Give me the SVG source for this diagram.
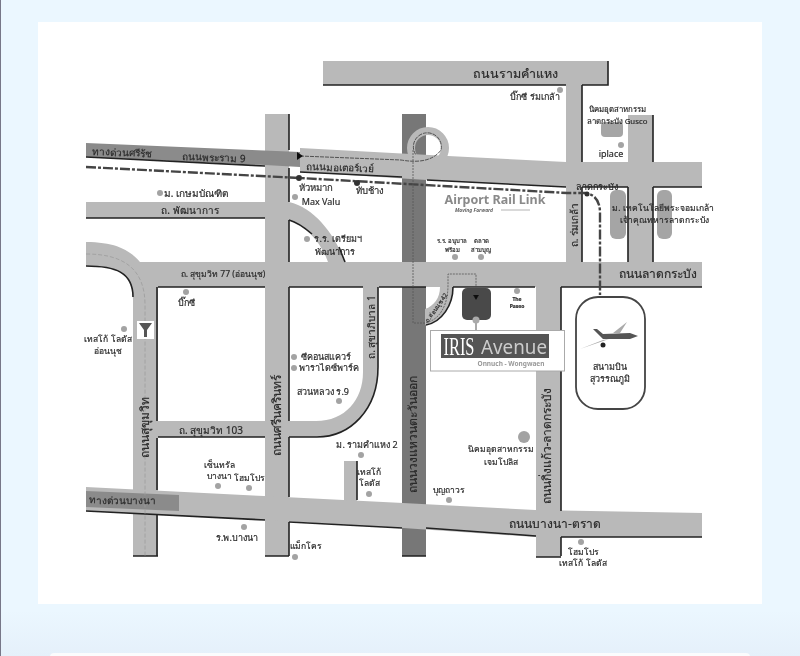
<svg xmlns="http://www.w3.org/2000/svg" width="800" height="656" viewBox="0 0 800 656">
<style>
text{font-family:"Noto Sans","DejaVu Sans","Liberation Sans",sans-serif;fill:#2a2a2a;stroke:#2a2a2a;stroke-width:.18;text-anchor:middle;font-size:9px}
.road{fill:#b9b9b9;stroke:none}
.edge{fill:none;stroke:#222;stroke-width:1.6}
.dot{fill:#a3a3a3}
.big{font-size:12px}
.mid{font-size:10px}
.sm{font-size:8.500px}
.xs{font-size:6px}
.bar{fill:#a5a5a5}
.rail{fill:none;stroke:#444;stroke-width:2.400;stroke-dasharray:10 2 3 2}
.thin{fill:none;stroke:#555;stroke-width:.8;stroke-dasharray:2 1}
.lt{stroke:none}
</style>
<defs>
<marker id="ah" markerWidth="6" markerHeight="6" refX="5" refY="3" orient="auto"><path d="M0 0L6 3L0 6Z" fill="#111"/></marker>
<linearGradient id="bg" x1="0" y1="0" x2="0" y2="1"><stop offset="0.93" stop-color="#ebf7ff"/><stop offset="1" stop-color="#e5f0fa"/></linearGradient>
<filter id="soft" x="0" y="0" width="1" height="1"><feGaussianBlur stdDeviation="0.35"/></filter>
</defs>
<rect width="800" height="656" fill="url(#bg)"/>
<rect x="0" y="0" width="1" height="656" fill="#778"/>
<rect x="38" y="22" width="724" height="582" fill="#fff"/>
<rect x="50" y="653" width="700" height="10" rx="4" fill="#fbfcfd"/>

<g filter="url(#soft)">
<g id="roads">
<rect x="402" y="114" width="24" height="442" fill="#777"/>
<circle cx="428" cy="148" r="17" fill="none" stroke="#b9b9b9" stroke-width="8"/>
<path class="road" d="M300 148L448 156L566 162H702V187H566L427 180L300 172Z"/>
<rect class="road" x="323" y="61" width="285" height="24"/>
<rect class="road" x="566" y="85" width="16" height="177"/>
<rect class="road" x="628" y="115" width="25" height="147"/>
<path class="road" d="M86 242C115 242 130 250 140 262H702V287H158V556H133V300C133 272 115 266 86 266Z"/>
<rect class="road" x="86" y="202" width="179" height="16"/>
<path class="road" d="M289 202C315 208 335 235 345 262H328C320 240 305 226 289 220Z"/>
<rect class="road" x="265" y="114" width="24" height="442"/>
<path class="road" d="M158 421H316C345 421 363 400 363 372V287H378V367C378 410 350 437 317 437H158Z"/>
<rect class="road" x="344" y="461" width="13" height="40"/>
<path class="road" d="M86 487L264 496L403 503L535 510L702 513V537H535L403 528L264 520L86 511Z"/>
<rect class="road" x="536" y="287" width="25" height="270"/>
<path class="road" d="M425 325C442 322 453 305 453 287H440C440 298 434 306 425 309Z"/>
<path d="M86 143L300 152V167L265 165L86 157Z" fill="#8b8b8b"/>
<path d="M86 491L179 495V511L86 507Z" fill="#8b8b8b"/>
<rect x="601" y="122" width="22" height="15" rx="4" class="bar"/>
<rect x="610" y="190" width="16" height="49" rx="6" class="bar"/>
<rect x="657" y="190" width="15" height="49" rx="6" class="bar"/>
</g>

<g id="edges">
<path class="edge" d="M323 85H566M582 85H608V61"/>
<path class="edge" d="M582 85V162M582 187V262M628 187V262M653 115V162M653 187V262"/>
<path class="edge" d="M427 180L566 187M582 187H628M653 187H702"/>
<path class="edge" d="M300 172L402 177"/>
<path class="edge" d="M86 157L265 166"/>
<path class="edge" d="M289 114V150M289 168V202M289 220V262M289 287V421M289 437V497M289 522V556"/>
<path class="edge" d="M265 556H289M133 556H158M402 556H426M536 557H561"/>
<path class="edge" d="M86 218H265M289 220C296 222 305 228 312 234"/>
<path class="edge" d="M339 247L345 262"/>
<path class="edge" d="M86 266C115 266 133 272 133 297"/>
<path class="edge" d="M157 287V421M157 438V490M157 515V556"/>
<path class="edge" d="M158 287H265M289 287H363M379 287H426M453 287H535M561 287H702"/>
<path class="edge" d="M158 437H265M289 437H317C350 437 378 410 378 367V287"/>
<path class="edge" d="M426 325C442 322 453 305 453 287"/>
<path class="edge" d="M561 287V511M561 537V556"/>
<path class="edge" d="M86 511L265 520M289 522L402 528M426 528L536 536M561 537H702"/>
<path class="edge" d="M357 461V500"/>
</g>

<g id="connectors">
<path d="M86 254C125 254 145 270 145 305V556" fill="none" stroke="#9c9c9c" stroke-width=".8" stroke-dasharray="4 2"/>
<path class="rail" d="M86 167L300 178L567 193H585Q600 195 600 213V295"/>
<path d="M300 156L401 160Q430 165 441 150A14 14 0 1 0 416 155" fill="none" stroke="#444" stroke-width=".9" stroke-dasharray="4 1"/>
<path class="thin" d="M413 150V323H425C440 320 448 305 448 285V274H476V296" marker-end="url(#ah)"/>
<path d="M297 152L303 156L297 160Z" fill="#111"/>
<circle cx="299" cy="178" r="3" fill="#333"/>
<circle cx="357" cy="183" r="3" fill="#333"/>
<circle cx="587" cy="194" r="2.500" fill="#333"/>
</g>

<g id="iris-avenue">
<rect x="462" y="288" width="29" height="32" rx="5" fill="#4a4a4a"/>
<path d="M473 295H479L476 300Z" fill="#111"/>
<circle cx="476" cy="320" r="3.500" fill="#aaa"/>
<rect x="475" y="322" width="2" height="9" fill="#aaa"/>
<rect x="430.500" y="330.500" width="134" height="40.500" fill="#fff" stroke="#aaa"/>
<rect x="441" y="334" width="108" height="24" fill="#555"/>
<text x="459" y="355" textLength="31" lengthAdjust="spacingAndGlyphs" class="lt" style="font-family:'Liberation Serif',serif;font-size:25px;fill:#fff">IRIS</text>
<text x="514" y="354" textLength="66" lengthAdjust="spacingAndGlyphs" class="lt" style="font-size:20px;fill:#ccc">Avenue</text>
<text x="511" y="366" class="lt" style="font-size:6.500px;fill:#999;font-weight:bold">Onnuch - Wongwaen</text>
</g>

<g id="airport">
<rect x="576" y="297" width="69" height="112" rx="22" fill="#fff" stroke="#444" stroke-width="1.800"/>
<path d="M603 340L580 349L609 339ZM613 333L627 322L620 333Z" fill="#aaa"/>
<path d="M593 329L597 329L603 334L630 333L638 336L630 339L603 339Z" fill="#555"/>
<circle cx="603" cy="345" r="2.500" fill="#222"/>
<text x="610" y="370">สนามบิน</text>
<text x="610" y="382">สุวรรณภูมิ</text>
</g>

<g id="bts-icon">
<rect x="137" y="321" width="17" height="18" fill="#fff"/>
<path d="M139 323H152L147 330V337H144V330Z" fill="#555"/>
</g>

<g id="road-labels">
<text x="515" y="78" style="font-size:12.500px">ถนนรามคำแหง</text>
<text x="340" y="171" class="mid" transform="rotate(2 340 167)">ถนนมอเตอร์เวย์</text>
<text x="122" y="156" class="mid" transform="rotate(2 122 152)">ทางด่วนศรีรัช</text>
<text x="214" y="161" class="mid" transform="rotate(2 214 157)">ถนนพระราม 9</text>
<text x="190" y="214" class="mid">ถ. พัฒนาการ</text>
<text x="223" y="277" class="sm">ถ. สุขุมวิท 77 (อ่อนนุช)</text>
<text x="658" y="278" class="big">ถนนลาดกระบัง</text>
<text x="211" y="434" class="mid">ถ. สุขุมวิท 103</text>
<text x="123" y="504" class="mid" transform="rotate(1 123 500)">ทางด่วนบางนา</text>
<text x="555" y="528" class="big">ถนนบางนา-ตราด</text>
<text transform="translate(149,427) rotate(-90)" class="big">ถนนสุขุมวิท</text>
<text transform="translate(281,415) rotate(-90)" class="big">ถนนศรีนครินทร์</text>
<text transform="translate(375,327) rotate(-90)" class="mid">ถ. สุขาภิบาล 1</text>
<text transform="translate(417,434) rotate(-90)" class="big">ถนนวงแหวนตะวันออก</text>
<text transform="translate(551,446) rotate(-90)" class="big">ถนนกิ่งแก้ว-ลาดกระบัง</text>
<text transform="translate(578,225) rotate(-90)" class="mid">ถ. ร่มเกล้า</text>
<text transform="translate(438,309) rotate(-55)" class="xs">ถ.อ่อนนุช 42</text>
</g>

<g id="places">
<circle class="dot" cx="560" cy="90" r="3"/><text x="535" y="100">บิ๊กซี ร่มเกล้า</text>
<text x="617" y="112" style="font-size:7.800px">นิคมอุตสาหกรรม</text><text x="617" y="124" style="font-size:7.800px">ลาดกระบัง Gusco</text>
<circle class="dot" cx="621" cy="145" r="3"/><text x="611" y="157">iplace</text>
<circle class="dot" cx="160" cy="193" r="3"/><text x="196" y="197" class="mid">ม. เกษมบัณฑิต</text>
<text x="316" y="191" style="font-size:9.500px">หัวหมาก</text><text x="370" y="194" style="font-size:9.500px">ทับช้าง</text>
<circle class="dot" cx="295" cy="197" r="3"/><text x="321" y="205">Max Valu</text>
<circle class="dot" cx="307" cy="239" r="3"/><text x="338" y="242">ร.ร. เตรียมฯ</text><text x="335" y="255">พัฒนาการ</text>
<circle class="dot" cx="186" cy="292" r="3"/><text x="186" y="306">บิ๊กซี</text>
<circle class="dot" cx="124" cy="329" r="3"/><text x="108" y="342" class="sm">เทสโก้ โลตัส</text><text x="108" y="354" class="sm">อ่อนนุช</text>
<circle class="dot" cx="294" cy="357" r="3"/><text x="326" y="360">ซีคอนสแควร์</text>
<circle class="dot" cx="294" cy="368" r="3"/><text x="329" y="371">พาราไดซ์พาร์ค</text>
<text x="323" y="395">สวนหลวง ร.9</text><circle class="dot" cx="339" cy="401" r="3"/>
<text x="367" y="448">ม. รามคำแหง 2</text><circle class="dot" cx="361" cy="455" r="3"/>
<text x="369" y="475" class="sm">เทสโก้</text><text x="369" y="486" class="sm">โลตัส</text><circle class="dot" cx="369" cy="494" r="3"/>
<text x="219" y="468" class="sm">เซ็นทรัล</text><text x="219" y="479" class="sm">บางนา</text><circle class="dot" cx="218" cy="486" r="3"/>
<text x="249" y="481" class="sm">โฮมโปร</text><circle class="dot" cx="249" cy="488" r="3"/>
<circle class="dot" cx="244" cy="527" r="3"/><text x="237" y="541">ร.พ.บางนา</text>
<text x="306" y="549" class="sm">แม็กโคร</text><circle class="dot" cx="295" cy="557" r="3"/>
<text x="449" y="493" class="sm">บุญถาวร</text><circle class="dot" cx="449" cy="500" r="3"/>
<circle class="dot" cx="581" cy="542" r="3"/><text x="583" y="555" class="sm">โฮมโปร</text><text x="583" y="566" class="sm">เทสโก้ โลตัส</text>
<circle class="dot" cx="524" cy="437" r="6"/><text x="501" y="452" class="sm">นิคมอุตสาหกรรม</text><text x="501" y="465" class="sm">เจมโปลิส</text>
<text x="597" y="190">ลาดกระบัง</text>
<text x="663" y="211" class="sm">ม. เทคโนโลยีพระจอมเกล้า</text><text x="664" y="223" class="sm">เจ้าคุณทหารลาดกระบัง</text>
<text x="452" y="243" class="xs">ร.ร. อนุบาล</text><text x="452" y="252" class="xs">พร้อม</text>
<text x="481" y="243" class="xs">ตลาด</text><text x="481" y="252" class="xs">สามบุญ</text>
<circle class="dot" cx="455" cy="257" r="3"/><circle class="dot" cx="481" cy="257" r="3"/>
<circle class="dot" cx="517" cy="291" r="3"/>
<text x="517" y="301" style="font-size:5px;font-weight:bold">The</text><text x="517" y="308" style="font-size:5px;font-weight:bold">Paseo</text>
</g>

<g id="rail-logo">
<text x="495" y="204" class="lt" style="font-size:12.500px;font-weight:bold;fill:#8a8a8a">Airport Rail Link</text>
<text x="474" y="212" class="lt" style="font-size:5px;font-style:italic;font-weight:bold;fill:#666">Moving Forward</text>
<path d="M501 210H530" stroke="#ccc" stroke-width="1.500"/>
</g>
</g>
</svg>
